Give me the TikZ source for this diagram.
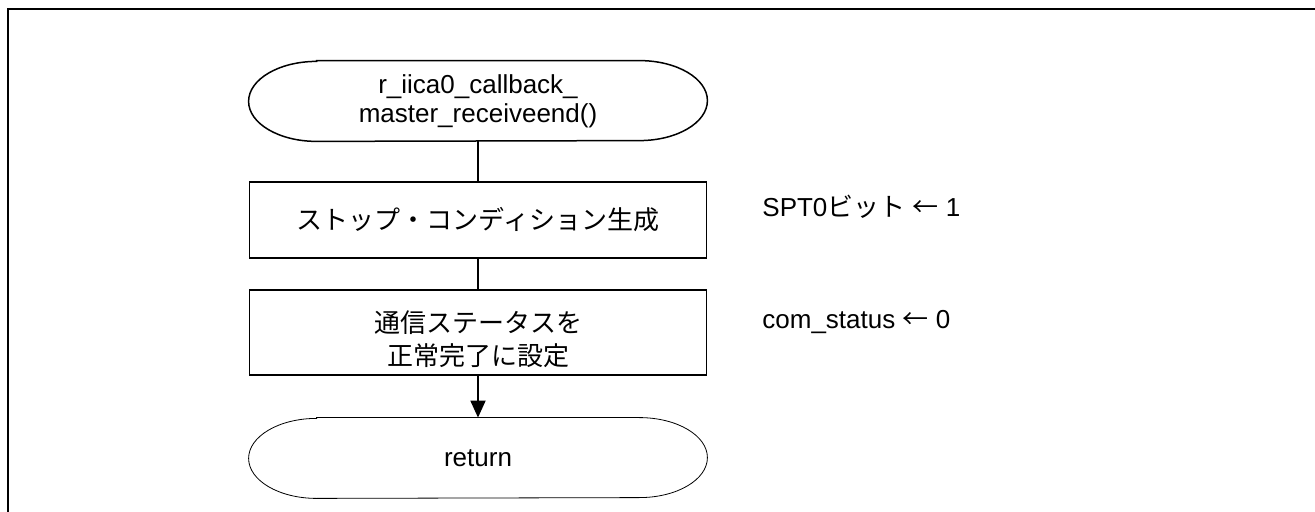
\documentclass[tikz,border=0pt]{standalone}
\usepackage{fontspec}
\setmainfont{Liberation Sans}
\newfontfamily\jp{Noto Sans CJK JP}
\usetikzlibrary{arrows.meta}
\tikzset{>={Triangle[length=8.5pt,width=7.5pt]}}
\tikzset{
    term/.style={minimum width=229pt, minimum height=40pt, inner sep=0pt, align=center},
    proc/.style={draw, line width=0.85pt, minimum width=228.5pt, inner sep=0pt, align=center},
    note/.style={anchor=west, inner sep=0pt},
    flowline/.style={draw, line width=0.9pt}
}
\newcommand{\stadium}[2]{%
    \draw[#1] ([xshift=34pt]#2.north west) -- ([xshift=-34pt]#2.north east)
        arc[start angle=90, end angle=-90, x radius=34pt, y radius=20pt]
        -- ([xshift=34pt]#2.south west)
        arc[start angle=270, end angle=90, x radius=34pt, y radius=20pt] -- cycle;}

\begin{document}
\begin{tikzpicture}[x=0.5pt, y=-0.5pt, font=\fontsize{13pt}{14.5pt}\selectfont]
    \useasboundingbox (0,0) rectangle (1315,512);
    \draw[line width=0.85pt] (8,9) rectangle (1400,1000);
    \node[term] (start) at (478,101) {r\_iica0\_callback\_\\master\_receiveend()};
    \stadium{line width=0.75pt}{start}
    \node[proc, minimum height=38pt] (stop) at (478,220) {\jp ストップ・コンディション生成};
    \node[proc, minimum height=42.5pt, label={[font=\fontsize{13pt}{16.5pt}\selectfont, align=center, yshift=-3.5pt]center:{\jp 通信ステータスを}\\{\jp 正常完了に設定}}] (status) at (478,332.5) {};
    \node[term] (ret) at (478,458) {return};
    \stadium{line width=0.4pt}{ret}
    \path[flowline] (start.south) -- (stop.north);
    \path[flowline] (stop.south) -- (status.north);
    \path[flowline,->] (status.south) -- (ret.north);
    \node[note] (spt) at (762,207) {SPT0{\jp ビット}~{\jp ←}~1};
    \node[note] (com) at (762,322) {com\_status~{\jp ←}~0};
\end{tikzpicture}
\end{document}
